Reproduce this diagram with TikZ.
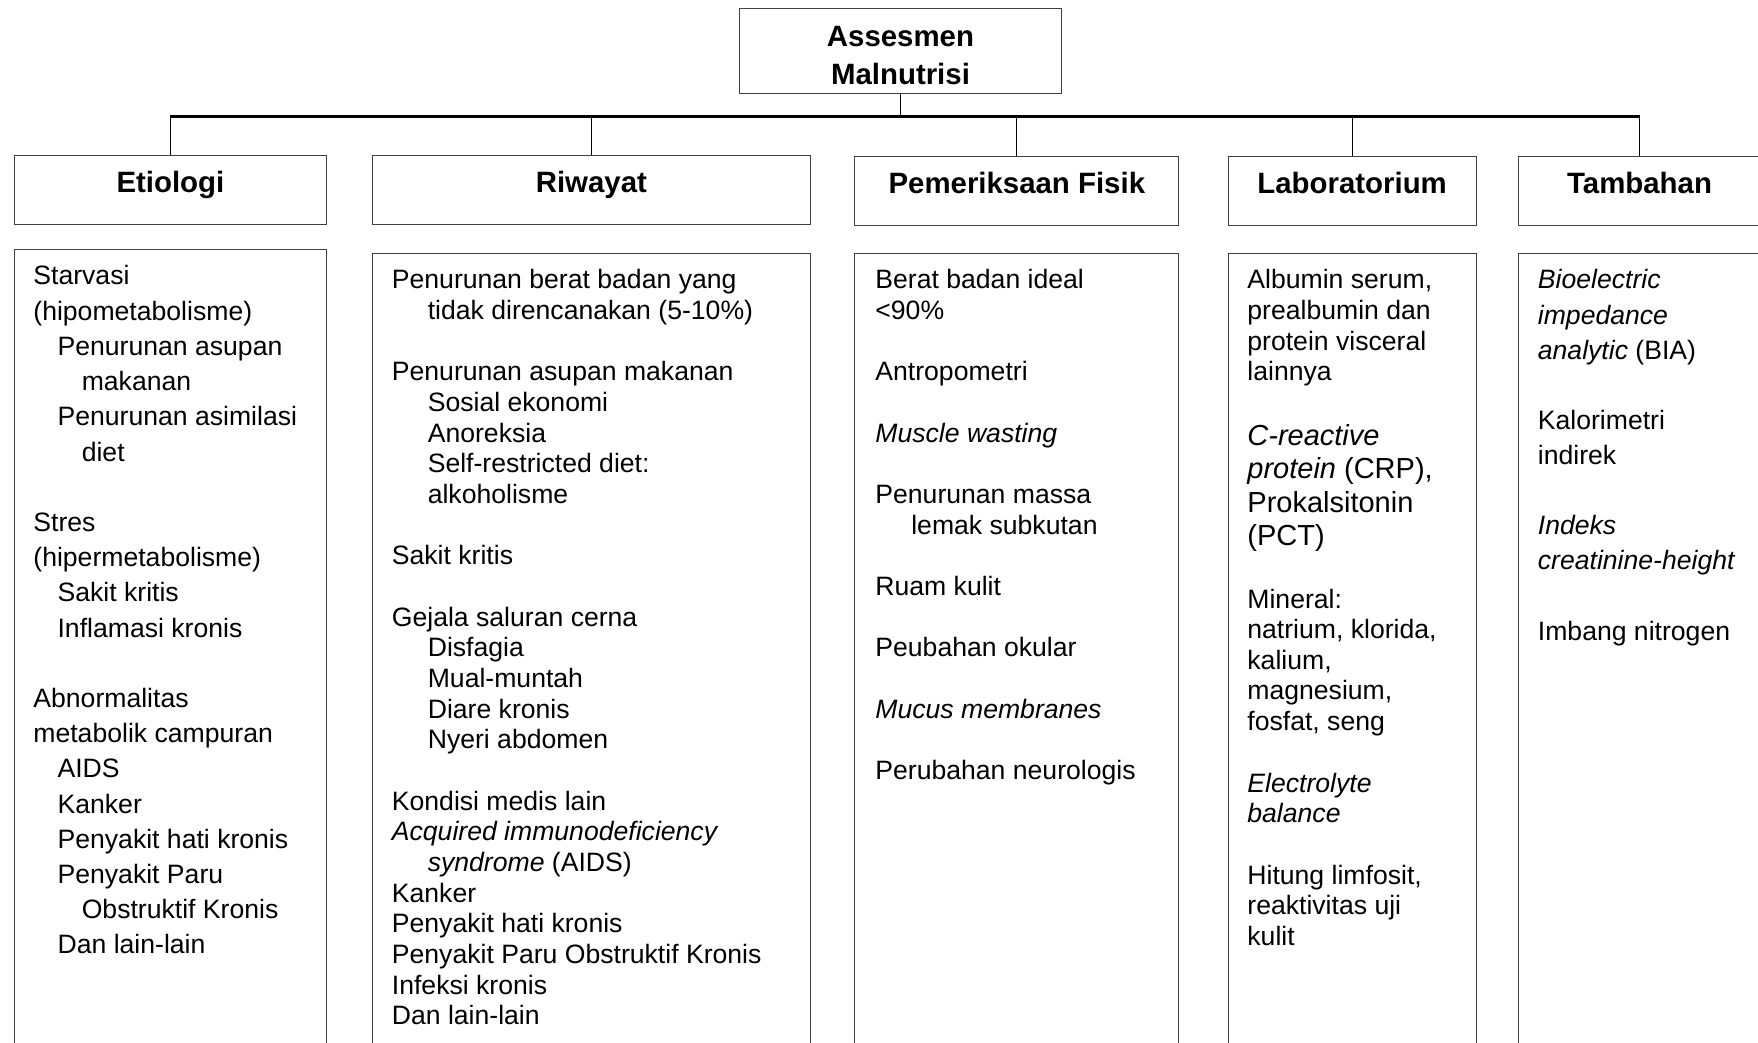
\documentclass[tikz,border=0pt]{standalone}
\usepackage{fontspec}
\setmainfont{Liberation Sans}
\newcommand\fs{\fontsize{13.3pt}{15pt}\selectfont}
\newcommand\fbig{\fontsize{14.5pt}{16.5pt}\selectfont}
\newcommand\fhdr{\fontsize{14.7pt}{19pt}\selectfont}
\begin{document}
\begin{tikzpicture}[x=0.5pt,y=-0.5pt,
  box/.style={draw=black!75, line width=0.5pt, inner sep=0pt, anchor=north west},
  hdr/.style={box, font=\bfseries\fhdr, text height=18.5pt, text depth=16.25pt, minimum height=34.75pt},
  txt/.style={anchor=base west, inner sep=0pt, font=\fs},
  bigtxt/.style={anchor=base west, inner sep=0pt, font=\fbig},
  conn/.style={draw=black, line width=0.6pt},
  bus/.style={draw=black, line width=1.2pt}]
\useasboundingbox (0,0) rectangle (1758,1043);
\clip (0,0) rectangle (1758,1043);
\fill[white] (0,0) rectangle (1758,1043);

% top node
\node[box, minimum width=161pt, minimum height=42.6pt] (top) at (739,7.8) {};
\node[align=center, inner sep=0pt, font=\bfseries\fhdr] (toptxt) at ([yshift=-2.2pt]top.center) {Assesmen\\Malnutrisi};

% header boxes
\node[hdr, minimum width=156.4pt]  (etioH) at (13.5,154.7)  {Etiologi};
\node[hdr, minimum width=218.65pt] (riwH)  at (372.2,154.7) {Riwayat};
\node[hdr, minimum width=162.05pt] (pemH)  at (854.3,155.8) {Pemeriksaan Fisik};
\node[hdr, minimum width=123.9pt]  (labH)  at (1227.7,155.8) {Laboratorium};
\node[hdr, minimum width=120.95pt] (tambH) at (1518.1,155.8) {Tambahan};

% connectors
\coordinate (busy) at (0,116.6);
\draw[conn] (top.south) -- (top.south |- busy);
\draw[bus] (etioH.north |- busy) -- (tambH.north |- busy);
\foreach \n in {etioH,riwH,pemH,labH,tambH}
  \draw[conn] (\n.north |- busy) -- (\n.north);

% content boxes
\node[box, minimum width=156.4pt,  minimum height=410pt] (etioC) at (13.5,249.3) {};
\node[box, minimum width=218.65pt, minimum height=410pt] (riwC)  at (372.2,253.4) {};
\node[box, minimum width=162.05pt, minimum height=410pt] (pemC)  at (854.3,253.4) {};
\node[box, minimum width=123.9pt,  minimum height=410pt] (labC)  at (1227.7,253.4) {};
\node[box, minimum width=130pt,    minimum height=410pt] (tambC) at (1518.1,253.4) {};

% Etiologi
\foreach \i/\ind/\s in {0/0/Starvasi, 1/0/(hipometabolisme), 2/1/Penurunan asupan,
  3/2/makanan, 4/1/Penurunan asimilasi, 5/2/diet, 7/0/Stres, 8/0/(hipermetabolisme),
  9/1/Sakit kritis, 10/1/Inflamasi kronis, 12/0/Abnormalitas, 13/0/metabolik campuran,
  14/1/AIDS, 15/1/Kanker, 16/1/Penyakit hati kronis, 17/1/Penyakit Paru,
  18/2/Obstruktif Kronis, 19/1/Dan lain-lain}
  \node[txt] (et\i) at ({33+\ind*24.2},{285+\i*35.2}) {\s};

% Riwayat
\foreach \i/\ind/\s in {0/0/Penurunan berat badan yang, 1/1/tidak direncanakan (5-10\%),
  3/0/Penurunan asupan makanan, 4/1/Sosial ekonomi, 5/1/Anoreksia,
  6/1/Self-restricted diet:, 7/1/alkoholisme, 9/0/Sakit kritis,
  11/0/Gejala saluran cerna, 12/1/Disfagia, 13/1/Mual-muntah, 14/1/Diare kronis,
  15/1/Nyeri abdomen, 17/0/Kondisi medis lain, 18/0/\textit{Acquired immunodeficiency},
  19/1/\textit{syndrome} (AIDS), 20/0/Kanker, 21/0/Penyakit hati kronis,
  22/0/Penyakit Paru Obstruktif Kronis, 23/0/Infeksi kronis, 24/0/Dan lain-lain}
  \node[txt] (rw\i) at ({391.5+\ind*35.9},{289+\i*30.66}) {\s};

% Pemeriksaan Fisik
\foreach \i/\ind/\s in {0/0/Berat badan ideal, 1/0/<90\%, 3/0/Antropometri,
  5/0/\textit{Muscle wasting}, 7/0/Penurunan massa, 8/1/lemak subkutan,
  10/0/Ruam kulit, 12/0/Peubahan okular, 14/0/\textit{Mucus membranes},
  16/0/Perubahan neurologis}
  \node[txt] (pf\i) at ({875+\ind*35.9},{289+\i*30.66}) {\s};

% Laboratorium
\foreach \y/\s [count=\i] in {289/{Albumin serum,}, 319.6/prealbumin dan,
  350.2/protein visceral, 380.8/lainnya, 608/Mineral:, 638.6/{natrium, klorida,},
  669.2/{kalium,}, 699.8/{magnesium,}, 730.4/{fosfat, seng}, 792/\textit{Electrolyte},
  822.6/\textit{balance}, 884/{Hitung limfosit,}, 914.6/reaktivitas uji, 945.2/kulit}
  \node[txt] (lb\i) at (1247,\y) {\s};
\foreach \y/\s [count=\i] in {445/\textit{C-reactive}, 478.6/{\textit{protein} (CRP),},
  512.2/Prokalsitonin, 545.8/(PCT)}
  \node[bigtxt] (lbb\i) at (1247,\y) {\s};

% Tambahan
\foreach \i/\s in {0/\textit{Bioelectric}, 1/\textit{impedance}, 2/\textit{analytic} (BIA),
  4/Kalorimetri, 5/indirek, 7/\textit{Indeks}, 8/\textit{creatinine-height},
  10/Imbang nitrogen}
  \node[txt] (tb\i) at (1537.5,{289+\i*35.1}) {\s};
\end{tikzpicture}
\end{document}
